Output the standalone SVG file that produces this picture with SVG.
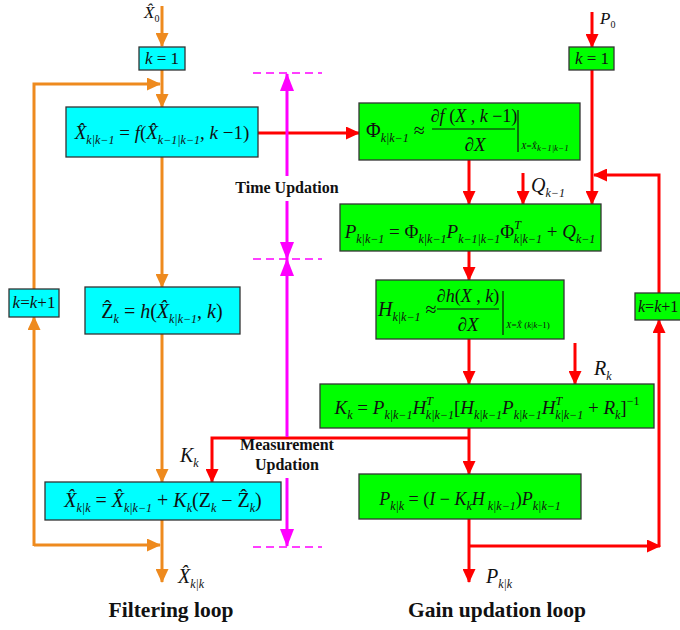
<svg xmlns="http://www.w3.org/2000/svg" width="680" height="630" viewBox="0 0 680 630" font-family="'Liberation Serif', serif">
<style>
.cy{fill:#00FFFF;stroke:#333;stroke-width:1.3}
.gr{fill:#00FF00;stroke:#333;stroke-width:1.3}
.m{font-family:'Liberation Serif','DejaVu Serif',serif;font-size:20px;fill:#111}
.i{font-style:italic}
.s{font-style:italic;font-size:12px}
.xs{font-style:italic}
.o{fill:none;stroke:#EE8A1E;stroke-width:3}
.r{fill:none;stroke:#FF0000;stroke-width:3}
.p{fill:none;stroke:#FF00FF;stroke-width:3}
.pd{fill:none;stroke:#FF00FF;stroke-width:1.5;stroke-dasharray:8 5}
.bar{stroke:#111;stroke-width:1.2}
.b{font-family:'Liberation Serif','DejaVu Serif',serif;font-weight:bold;fill:#111}
</style>
<defs>
<marker id="ao" markerUnits="userSpaceOnUse" markerWidth="14" markerHeight="13" refX="13" refY="6.5" orient="auto"><path d="M0,0 L14,6.5 L0,13 z" fill="#EE8A1E"/></marker>
<marker id="ar" markerUnits="userSpaceOnUse" markerWidth="14" markerHeight="13" refX="13" refY="6.5" orient="auto"><path d="M0,0 L14,6.5 L0,13 z" fill="#FF0000"/></marker>
<marker id="am" markerUnits="userSpaceOnUse" markerWidth="18" markerHeight="14" refX="17" refY="7" orient="auto"><path d="M0,0 L18,7 L0,14 z" fill="#FF00FF"/></marker>
</defs>
<rect width="680" height="630" fill="#fff"/>

<g id="connectors">
<line class="o" x1="162" y1="6" x2="162" y2="46" marker-end="url(#ao)"/>
<line class="o" x1="162" y1="70" x2="162" y2="107" marker-end="url(#ao)"/>
<polyline class="o" points="34,289 34,84 160,84" marker-end="url(#ao)"/>
<line class="o" x1="162" y1="157" x2="162" y2="287" marker-end="url(#ao)"/>
<line class="o" x1="162" y1="334" x2="162" y2="482" marker-end="url(#ao)"/>
<line class="o" x1="162" y1="520" x2="162" y2="582" marker-end="url(#ao)"/>
<line class="o" x1="34" y1="545" x2="160" y2="545" marker-end="url(#ao)"/>
<line class="o" x1="34" y1="546" x2="34" y2="317" marker-end="url(#ao)"/>
<line class="r" x1="258" y1="133" x2="359" y2="133" marker-end="url(#ar)"/>
<line class="r" x1="592" y1="12" x2="592" y2="47" marker-end="url(#ar)"/>
<line class="r" x1="592" y1="70" x2="592" y2="204" marker-end="url(#ar)"/>
<line class="r" x1="469" y1="160" x2="469" y2="204" marker-end="url(#ar)"/>
<line class="r" x1="523" y1="173" x2="523" y2="204" marker-end="url(#ar)"/>
<polyline class="r" points="659,293 659,175 594,175" marker-end="url(#ar)"/>
<line class="r" x1="469" y1="251" x2="469" y2="280" marker-end="url(#ar)"/>
<line class="r" x1="469" y1="339" x2="469" y2="384" marker-end="url(#ar)"/>
<line class="r" x1="575" y1="343" x2="575" y2="384" marker-end="url(#ar)"/>
<line class="r" x1="469" y1="428" x2="469" y2="474" marker-end="url(#ar)"/>
<polyline class="r" points="469,438 212,438 212,482" marker-end="url(#ar)"/>
<line class="r" x1="469" y1="519" x2="469" y2="582" marker-end="url(#ar)"/>
<line class="r" x1="469" y1="546" x2="660" y2="546" marker-end="url(#ar)"/>
<line class="r" x1="659" y1="547" x2="659" y2="320" marker-end="url(#ar)"/>
<line class="pd" x1="253" y1="73" x2="322" y2="73"/>
<line class="pd" x1="253" y1="259" x2="322" y2="259"/>
<line class="pd" x1="253" y1="547" x2="322" y2="547"/>
<line class="p" x1="287" y1="176" x2="287" y2="74" marker-end="url(#am)"/>
<line class="p" x1="287" y1="201" x2="287" y2="259" marker-end="url(#am)"/>
<line class="p" x1="287" y1="437" x2="287" y2="259" marker-end="url(#am)"/>
<line class="p" x1="287" y1="478" x2="287" y2="546" marker-end="url(#am)"/>
</g>

<g id="k1-left">
<rect class="cy" x="139" y="47" width="46" height="23"/>
<text class="m" x="162" y="64" text-anchor="middle" style="font-size:17px"><tspan class="i">k</tspan> = 1</text>
</g>
<g id="predict-state">
<rect class="cy" x="66" y="107" width="192" height="50"/>
<text class="m" x="162" y="139" text-anchor="middle" style="font-size:19px"><tspan class="i">X̂</tspan><tspan class="s" dy="5">k|k−1</tspan><tspan dy="-5"> = </tspan><tspan class="i">f</tspan>(<tspan class="i">X̂</tspan><tspan class="s" dy="5">k−1|k−1</tspan><tspan dy="-5">, </tspan><tspan class="i">k</tspan> −1)</text>
</g>
<g id="predict-meas">
<rect class="cy" x="85" y="287" width="155" height="47"/>
<text class="m" x="162" y="318" text-anchor="middle">Ẑ<tspan class="s" dy="5">k</tspan><tspan dy="-5"> = </tspan><tspan class="i">h</tspan>(<tspan class="i">X̂</tspan><tspan class="s" dy="5">k|k−1</tspan><tspan dy="-5">, </tspan><tspan class="i">k</tspan>)</text>
</g>
<g id="kk1-left">
<rect class="cy" x="9" y="289" width="50" height="28"/>
<text class="m" x="34" y="308" text-anchor="middle" style="font-size:17px"><tspan class="i">k</tspan>=<tspan class="i">k</tspan>+1</text>
</g>
<g id="update-state">
<rect class="cy" x="45" y="482" width="236" height="38"/>
<text class="m" x="163" y="507" text-anchor="middle"><tspan class="i">X̂</tspan><tspan class="s" dy="5">k|k</tspan><tspan dy="-5"> = </tspan><tspan class="i">X̂</tspan><tspan class="s" dy="5">k|k−1</tspan><tspan dy="-5"> + </tspan><tspan class="i">K</tspan><tspan class="s" dy="5">k</tspan><tspan dy="-5">(Z</tspan><tspan class="s" dy="5">k</tspan><tspan dy="-5"> − Ẑ</tspan><tspan class="s" dy="5">k</tspan><tspan dy="-5">)</tspan></text>
</g>

<g id="k1-right">
<rect class="gr" x="569" y="47" width="45" height="23"/>
<text class="m" x="592" y="64" text-anchor="middle" style="font-size:17px"><tspan class="i">k</tspan> = 1</text>
</g>
<g id="jacobian-f">
<rect class="gr" x="359" y="103" width="221" height="57"/>
<text class="m" x="366" y="137"><tspan>Φ</tspan><tspan class="s" dy="5">k|k−1</tspan><tspan dy="-5"> ≈</tspan></text>
<text class="m" x="474" y="122" text-anchor="middle" style="font-size:18px">∂<tspan class="i">f</tspan> (<tspan class="i">X</tspan> , <tspan class="i">k</tspan> −1)</text>
<line class="bar" x1="432" y1="129" x2="515" y2="129"/>
<text class="m" x="475" y="151" text-anchor="middle" style="font-size:19px">∂<tspan class="i">X</tspan></text>
<line class="bar" x1="518" y1="110" x2="518" y2="152"/>
<text class="m" x="521" y="149" style="font-size:9px"><tspan class="xs">X</tspan>=<tspan class="xs">X̂</tspan><tspan class="xs" dy="2">k−1|k−1</tspan></text>
</g>
<g id="predict-cov">
<rect class="gr" x="340" y="204" width="261" height="47"/>
<text class="m" x="470" y="238" text-anchor="middle" style="font-size:19px"><tspan class="i">P</tspan><tspan class="s" dy="5">k|k−1</tspan><tspan dy="-5"> = Φ</tspan><tspan class="s" dy="5">k|k−1</tspan><tspan class="i" dy="-5">P</tspan><tspan class="s" dy="5">k−1|k−1</tspan><tspan dy="-5">Φ</tspan><tspan class="s" dy="-9">T</tspan><tspan class="s" dx="-7" dy="14">k|k−1</tspan><tspan dy="-5"> + </tspan><tspan class="i">Q</tspan><tspan class="s" dy="5">k−1</tspan></text>
</g>
<g id="jacobian-h">
<rect class="gr" x="376" y="280" width="188" height="59"/>
<text class="m" x="378" y="316"><tspan class="i">H</tspan><tspan class="s" dy="5">k|k−1</tspan><tspan dy="-5"> ≈</tspan></text>
<text class="m" x="468" y="302" text-anchor="middle" style="font-size:18px">∂<tspan class="i">h</tspan>(<tspan class="i">X</tspan> , <tspan class="i">k</tspan>)</text>
<line class="bar" x1="437" y1="309" x2="499" y2="309"/>
<text class="m" x="468" y="331" text-anchor="middle" style="font-size:19px">∂<tspan class="i">X</tspan></text>
<line class="bar" x1="503" y1="291" x2="503" y2="335"/>
<text class="m" x="506" y="328" style="font-size:9px"><tspan class="xs">X</tspan>=<tspan class="xs">X̂</tspan> (<tspan class="xs">k</tspan>|<tspan class="xs">k</tspan>−1)</text>
</g>
<g id="kk1-right">
<rect class="gr" x="635" y="293" width="50" height="27"/>
<text class="m" x="638" y="312" style="font-size:16px"><tspan class="i">k</tspan>=<tspan class="i">k</tspan>+1</text>
</g>
<g id="gain">
<rect class="gr" x="320" y="384" width="334" height="44"/>
<text class="m" x="487" y="414" text-anchor="middle" style="font-size:19px"><tspan class="i">K</tspan><tspan class="s" dy="5">k</tspan><tspan dy="-5"> = </tspan><tspan class="i">P</tspan><tspan class="s" dy="5">k|k−1</tspan><tspan class="i" dy="-5">H</tspan><tspan class="s" dy="-9">T</tspan><tspan class="s" dx="-7" dy="14">k|k−1</tspan><tspan dy="-5">[</tspan><tspan class="i">H</tspan><tspan class="s" dy="5">k|k−1</tspan><tspan class="i" dy="-5">P</tspan><tspan class="s" dy="5">k|k−1</tspan><tspan class="i" dy="-5">H</tspan><tspan class="s" dy="-9">T</tspan><tspan class="s" dx="-7" dy="14">k|k−1</tspan><tspan dy="-5"> + </tspan><tspan class="i">R</tspan><tspan class="s" dy="5">k</tspan><tspan dy="-5">]</tspan><tspan style="font-size:12px" dy="-9">−1</tspan></text>
</g>
<g id="update-cov">
<rect class="gr" x="359" y="474" width="222" height="45"/>
<text class="m" x="470" y="505" text-anchor="middle" style="font-size:18px"><tspan class="i">P</tspan><tspan class="s" dy="5">k|k</tspan><tspan dy="-5"> = (</tspan><tspan class="i">I</tspan> − <tspan class="i">K</tspan><tspan class="s" dy="5">k</tspan><tspan class="i" dy="-5">H</tspan><tspan class="s" dy="5"> k|k−1</tspan><tspan dy="-5">)</tspan><tspan class="i">P</tspan><tspan class="s" dy="5">k|k−1</tspan></text>
</g>

<g id="labels">
<text class="m" x="144" y="18" style="font-size:17px"><tspan class="i">X̂</tspan><tspan style="font-size:10px" dy="4">0</tspan></text>
<text class="m" x="600" y="24" style="font-size:17px"><tspan class="i">P</tspan><tspan style="font-size:10px" dy="4">0</tspan></text>
<text class="m" x="531" y="192"><tspan class="i">Q</tspan><tspan class="s" dy="5">k−1</tspan></text>
<text class="m" x="594" y="375"><tspan class="i">R</tspan><tspan class="s" dy="5">k</tspan></text>
<text class="m" x="180" y="462"><tspan class="i">K</tspan><tspan class="s" dy="5">k</tspan></text>
<text class="m" x="178" y="583"><tspan class="i">X̂</tspan><tspan class="s" dy="5">k|k</tspan></text>
<text class="m" x="486" y="583"><tspan class="i">P</tspan><tspan class="s" dy="5">k|k</tspan></text>
<text class="b" x="287" y="193" style="font-size:16px" text-anchor="middle">Time Updation</text>
<text class="b" x="287" y="450" style="font-size:16px" text-anchor="middle">Measurement</text>
<text class="b" x="287" y="470" style="font-size:16px" text-anchor="middle">Updation</text>
<text class="b" x="171" y="617" style="font-size:21.5px" text-anchor="middle">Filtering loop</text>
<text class="b" x="497" y="617" style="font-size:21.5px" text-anchor="middle">Gain updation loop</text>
</g>
</svg>
